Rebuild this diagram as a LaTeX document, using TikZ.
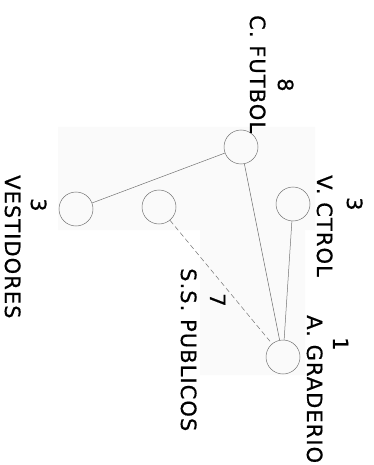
\documentclass[tikz,border=0pt]{standalone}
\usepackage{fontspec}
\newfontfamily\plotfont[LetterSpace=5,FakeBold=0.6]{DejaVu Sans}
\begin{document}
\begin{tikzpicture}[x=1pt,y=-1pt,
  room/.style={circle,draw=black!55,line width=0.5pt,minimum size=34pt,inner sep=0pt},
  lbl/.style={rotate=-90,anchor=base west,inner sep=0pt,text=black,font=\plotfont\fontsize{21}{25}\selectfont},
  link/.style={draw=black!55,line width=0.5pt},
  dlink/.style={draw=black!55,line width=0.5pt,dash pattern=on 5pt off 3pt}]
\useasboundingbox (0,0) rectangle (373,465);
\fill[black!2] (58,127) -- (315,127) -- (315,230) -- (305,230) -- (305,375) -- (200,375) -- (200,230) -- (58,230) -- cycle;
% rooms
\node[room] (fut) at (241,147) {};
\node[room] (ves) at (76,209) {};
\node[room] (ss) at (159,207) {};
\node[room] (vc) at (293,204) {};
\node[room] (gr) at (283,357) {};
% connectors
\draw[link] (fut) -- (ves);
\draw[link] (fut) -- (gr);
\draw[link] (vc) -- (gr);
\draw[dlink] (ss) -- (gr);
% labels
\node[lbl] (tfut) at (250,15) {C. FUTBOL};
\node[lbl] (nfut) at (278,78) {8};
\node[lbl] (tvc) at (317,175) {V. CTROL};
\node[lbl] (nvc) at (347,197) {3};
\node[lbl] (tves) at (5,175) {VESTIDORES};
\node[lbl] (nves) at (31,198) {3};
\node[lbl] (tss) at (181,268) {S.S. PUBLICOS};
\node[lbl] (nss) at (210,293) {7};
\node[lbl] (tgr) at (307,315) {A. GRADERIO};
\node[lbl] (ngr) at (333,337) {1};
\end{tikzpicture}
\end{document}
